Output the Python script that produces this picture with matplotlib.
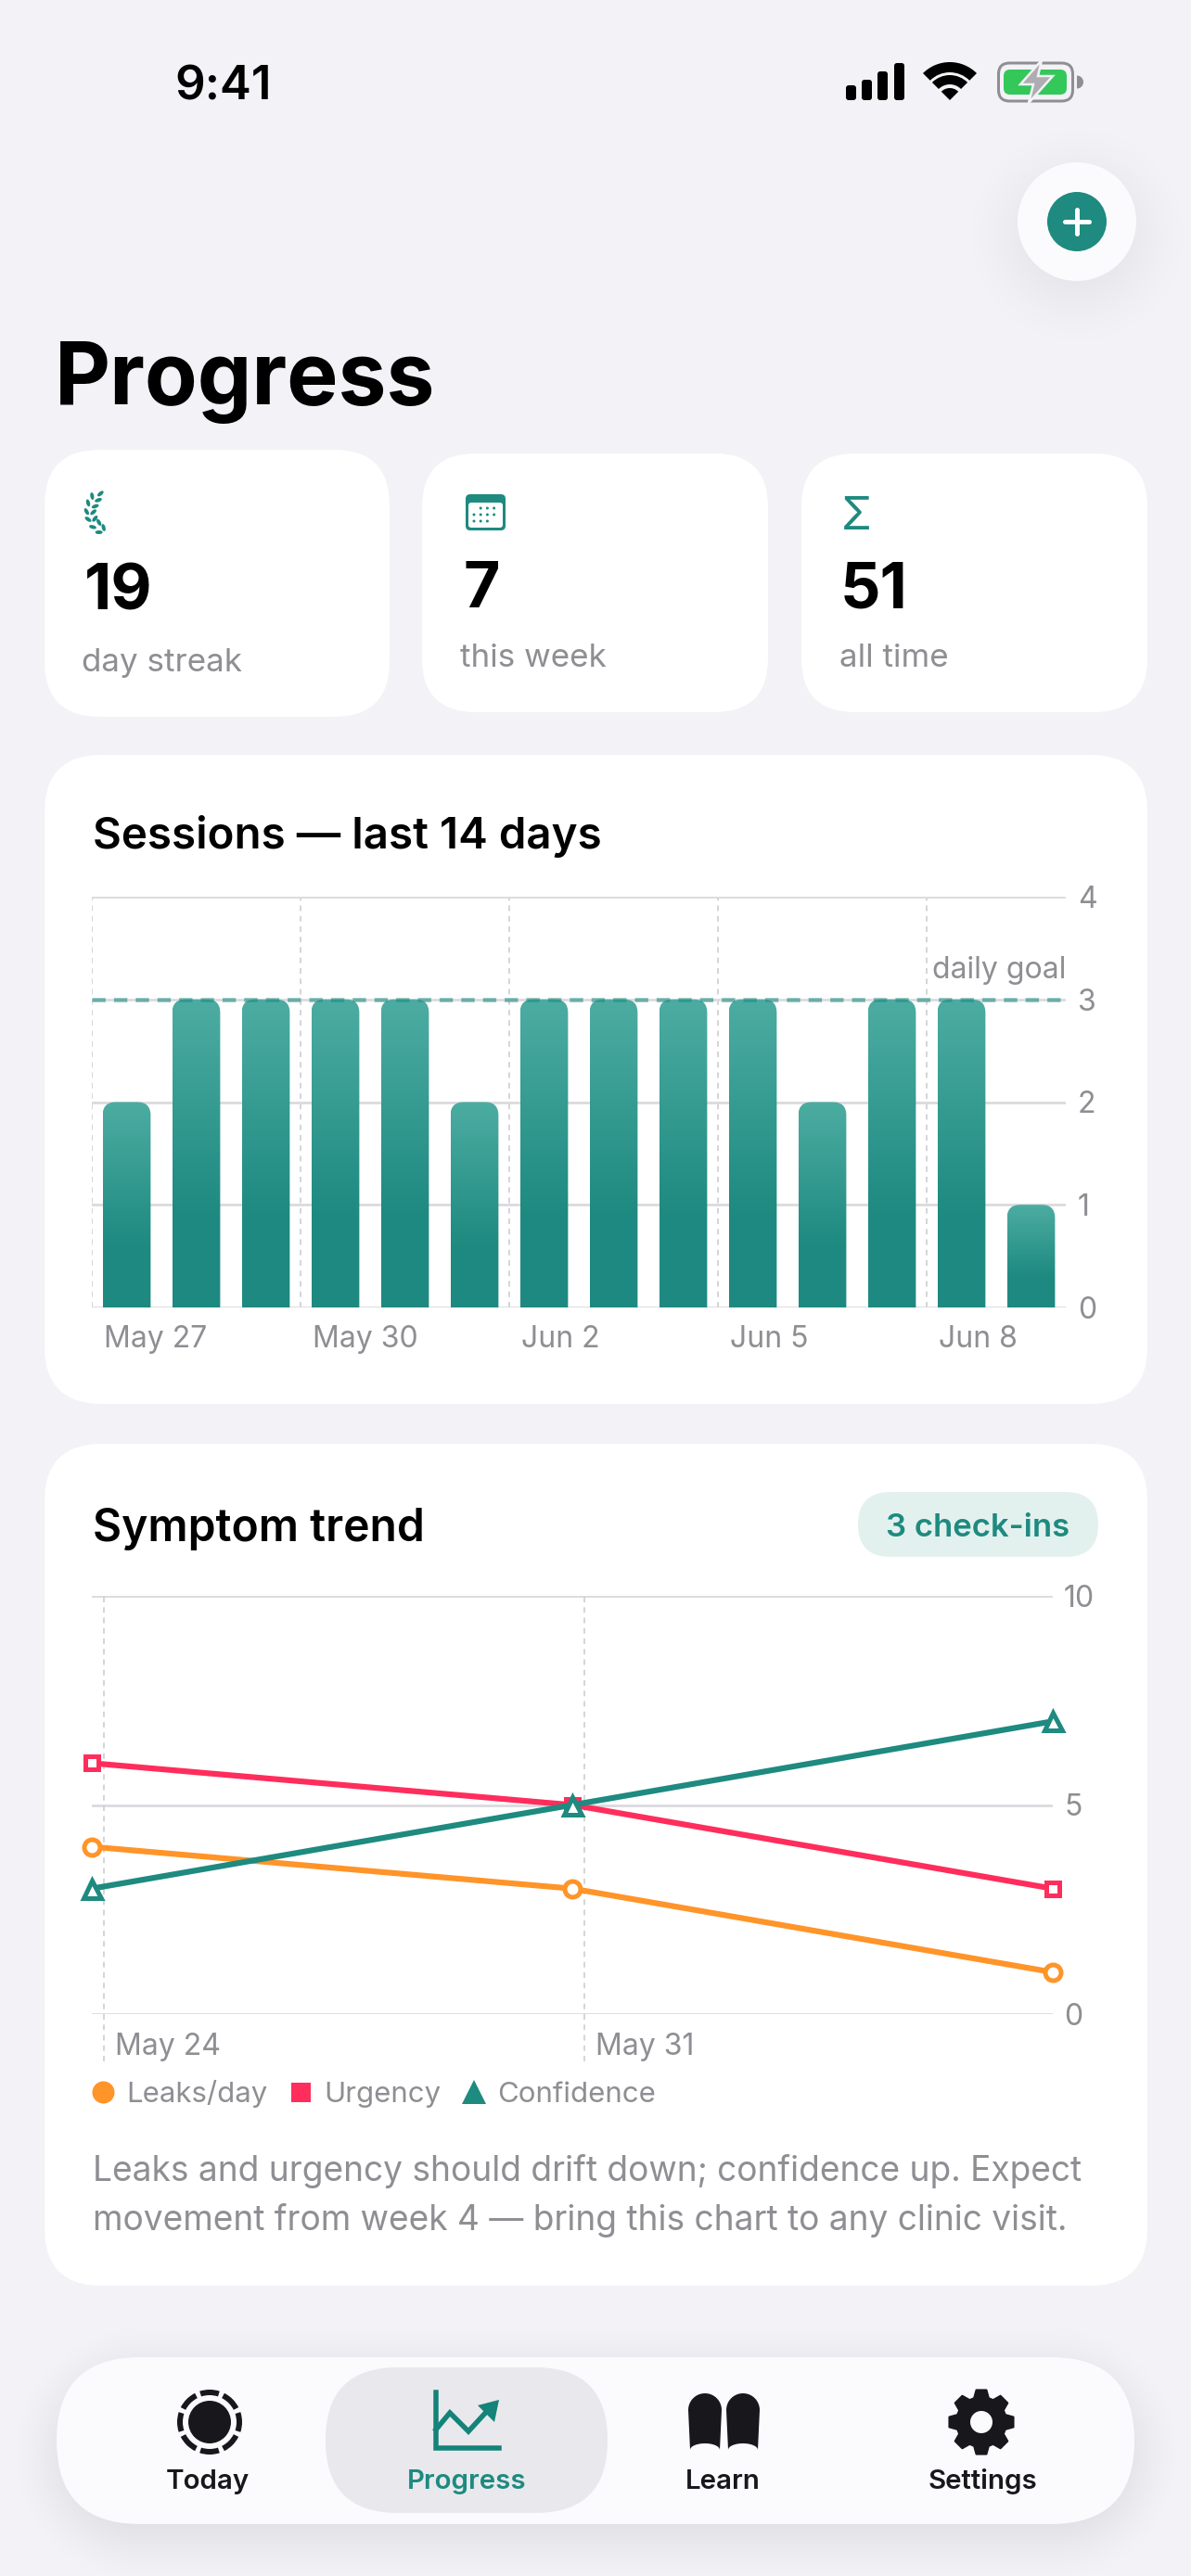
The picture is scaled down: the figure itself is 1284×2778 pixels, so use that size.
import numpy as np
import pandas as pd
import matplotlib
matplotlib.use("Agg")
import matplotlib.pyplot as plt
from matplotlib.patches import FancyBboxPatch, Circle, Wedge, Polygon, Ellipse, PathPatch
from matplotlib.path import Path
from matplotlib.lines import Line2D
from matplotlib.transforms import ScaledTranslation

plt.rcParams['font.family'] = ['Inter', 'DejaVu Sans']

W, H = 1284, 2778

# sessions chart
session_days = ['May 27', 'May 28', 'May 29', 'May 30', 'May 31', 'Jun 1', 'Jun 2',
                'Jun 3', 'Jun 4', 'Jun 5', 'Jun 6', 'Jun 7', 'Jun 8', 'Jun 9']
session_counts = [2, 3, 3, 3, 3, 2, 3, 3, 3, 3, 2, 3, 3, 1]
session_ticks = [0, 3, 6, 9, 12]
daily_goal = 3

# symptom chart
checkin_dates = pd.to_datetime(['2025-05-23 19:45', '2025-05-30 19:45', '2025-06-06 19:45'])
leaks = [4, 3, 1]
urgency = [6, 5, 3]
confidence = [3, 5, 7]
symptom_ticks = pd.to_datetime(['2025-05-24', '2025-05-31'])
symptom_tick_labels = ['May 24', 'May 31']

# stat cards
stat_values = ['19', '7', '51']
stat_labels = ['day streak', 'this week', 'all time']

# tab bar
tab_labels = ['Today', 'Progress', 'Learn', 'Settings']

BG = '#F2F2F7'
TEAL = '#1E8A80'
GRAY = '#8E8E93'
GRID = '#DBDBDF'
VGRID = '#C9C9CD'
ORANGE = '#FF9429'
PINK = '#FF2D5C'
BAR_BG = '#FBFBFE'
INK = '#18181C'


def px_axes(x0, y0, x1, y1):
    return fig.add_axes([x0 / W, 1 - y1 / H, (x1 - x0) / W, (y1 - y0) / H])


def pt(px):
    return px * 72 / 100


def rbox(x0, y0, x1, y1, r, color, z=2):
    p = FancyBboxPatch((x0, y0), x1 - x0, y1 - y0, boxstyle='round,pad=0,rounding_size=%s' % r,
                       fc=color, ec='none', zorder=z)
    bg.add_patch(p)
    return p


def shadow(x0, y0, x1, y1, r, blur, strength):
    yy, xx = np.mgrid[0:H, 0:W]
    cx, cy = (x0 + x1) / 2, (y0 + y1) / 2
    qx = np.abs(xx - cx) - ((x1 - x0) / 2 - r)
    qy = np.abs(yy - cy) - ((y1 - y0) / 2 - r)
    d = np.hypot(np.maximum(qx, 0), np.maximum(qy, 0)) + np.minimum(np.maximum(qx, qy), 0) - r
    t = np.clip(0.5 - d / (2 * blur), 0, 1)
    t = t * t * (3 - 2 * t)
    img = np.zeros((H, W, 4))
    img[..., 3] = t * strength
    bg.imshow(img, extent=(0, W, H, 0), aspect='auto', zorder=1, interpolation='bilinear')


fig = plt.figure(figsize=(W / 100, H / 100), dpi=100, facecolor=BG)
bg = fig.add_axes([0, 0, 1, 1])
bg.axis('off')

shadow(1097, 175 + 14, 1225, 303 + 14, 64, 70, 0.07)
shadow(62, 2542 + 14, 1223, 2722 + 14, 90, 60, 0.10)

# status bar
bg.text(241, 108, '9:41', fontsize=pt(51), fontweight='semibold', ha='center', va='baseline', color='black')
for bx, top in zip([912, 929, 946, 964], [92, 86, 77, 68]):
    rbox(bx, top, bx + 11, 108, 3, 'black')
bg.add_patch(Wedge((1024, 108), 41, 225, 315, width=11, fc='black', ec='none', zorder=3))
bg.add_patch(Wedge((1024, 108), 27, 225, 315, width=10, fc='black', ec='none', zorder=3))
bg.add_patch(Wedge((1024, 108), 13, 225, 315, fc='black', ec='none', zorder=3))
bat = FancyBboxPatch((1076.5, 68), 80, 41, boxstyle='round,pad=0,rounding_size=12', fc='none', ec=GRAY, lw=pt(3), zorder=3)
bg.add_patch(bat)
rbox(1082, 75, 1150, 102, 7, '#34C759', 3)
bg.add_patch(Wedge((1161, 88.5), 7, -90, 90, fc=GRAY, ec='none', zorder=3))
bg.add_patch(Polygon([(1123, 65), (1100, 91), (1114, 91), (1109, 111), (1135, 82), (1119, 82)],
                     closed=True, fc='#AEAEB2', ec=BG, lw=pt(2.5), zorder=4))

# add button
bg.add_patch(Circle((1161, 239), 64, fc=BAR_BG, ec='none', zorder=2))
bg.add_patch(Circle((1161, 239), 32, fc=TEAL, ec='none', zorder=3))
bg.plot([1148, 1174], [239, 239], color='white', lw=pt(5), solid_capstyle='round', zorder=4)
bg.plot([1161, 1161], [226, 252], color='white', lw=pt(5), solid_capstyle='round', zorder=4)

bg.text(59, 436, 'Progress', fontsize=pt(93), fontweight='bold', ha='left', va='baseline', color='black')

# stat cards
rbox(48, 485, 420, 773, 60, 'white')
rbox(455, 489, 828, 768, 58, 'white')
rbox(864, 489, 1237, 768, 58, 'white')
num_x = [91, 499, 906]
num_y = [658, 655, 655]
lab_x = [88, 496, 905]
lab_y = [724, 719, 719]
for i in range(3):
    bg.text(num_x[i], num_y[i], stat_values[i], fontsize=pt(68), fontweight='bold', ha='left', va='baseline', color='black')
    bg.text(lab_x[i], lab_y[i], stat_labels[i], fontsize=pt(35), ha='left', va='baseline', color=GRAY)

# laurel
leaf_u = [145, 118, 138, 105, 128, 100, 122, 105, 127, 120, 140, 155, 140]
leaf_v = [97, 105, 118, 127, 138, 155, 157, 180, 178, 205, 190, 207, 222]
leaf_a = [-40, 80, -20, 75, -20, 60, -40, 35, -50, 15, 60, 75, 0]
for u, v, a in zip(leaf_u, leaf_v, leaf_a):
    bg.add_patch(Ellipse((60 + u / 3, 500 + v / 3), 8, 4, angle=a, fc=TEAL, ec='none', zorder=3))

# calendar
rbox(502, 533, 545, 572, 5, TEAL, 3)
rbox(505, 542, 542, 569, 3, 'white', 4)
for j, row in enumerate([[1, 2, 3], [0, 1, 2, 3], [0, 1, 2]]):
    for k in row:
        bg.add_patch(Circle((511 + k * 7.2, 548 + j * 7), 1.5, fc=TEAL, ec='none', zorder=5))

# sigma
bg.text(923, 571, 'Σ', fontsize=pt(48), ha='center', va='baseline', color=TEAL, zorder=3)

# sessions card
rbox(48, 814, 1237, 1514, 62, 'white')
bg.text(100, 915, 'Sessions — last 14 days', fontsize=pt(47.5), fontweight='semibold', ha='left', va='baseline', color='black')

ax1 = px_axes(99, 967, 1149, 1410)
ax1.patch.set_alpha(0)
for s in ax1.spines.values():
    s.set_visible(False)
bars = ax1.bar(np.arange(14) + 0.5, session_counts, width=0.69, color='none', zorder=3)
top_rgb = np.array([0.30, 0.675, 0.635])
bot_rgb = np.array([0.118, 0.541, 0.502])
for b in bars:
    x0, x1, h = b.get_x(), b.get_x() + b.get_width(), b.get_height()
    frac = np.clip(np.linspace(0, 1, 128) / 0.7, 0, 1)[:, None, None]
    img = (top_rgb * (1 - frac) + bot_rgb * frac)
    rx, ry = 0.19, 0.13
    verts = [(x0, 0), (x0, h - ry), (x0, h), (x0 + rx, h), (x1 - rx, h), (x1, h), (x1, h - ry), (x1, 0), (x0, 0)]
    codes = [Path.MOVETO, Path.LINETO, Path.CURVE3, Path.CURVE3, Path.LINETO, Path.CURVE3, Path.CURVE3, Path.LINETO, Path.CLOSEPOLY]
    im = ax1.imshow(img, extent=(x0, x1, 0, h), aspect='auto', origin='upper', zorder=3)
    im.set_clip_path(PathPatch(Path(verts, codes), transform=ax1.transData))
ax1.set_xlim(0, 14)
ax1.set_ylim(0, 4)
ax1.set_yticks([0, 1, 2, 3, 4])
ax1.yaxis.tick_right()
ax1.set_xticks(session_ticks, [session_days[i] for i in session_ticks])
ax1.tick_params(axis='both', length=0, labelcolor=GRAY, labelsize=pt(32))
ax1.tick_params(axis='y', pad=pt(13))
ax1.tick_params(axis='x', pad=pt(19))
off = ScaledTranslation(13 / 100, 0, fig.dpi_scale_trans)
for t in ax1.get_xticklabels():
    t.set_ha('left')
    t.set_transform(t.get_transform() + off)
ax1.grid(axis='y', color=GRID, lw=pt(2.8), zorder=0)
ax1.grid(axis='x', color=VGRID, lw=pt(1.5), linestyle=(0, (4, 3.5)), zorder=1)
ax1.set_axisbelow(True)
ax1.axhline(daily_goal, color=TEAL, alpha=0.58, lw=pt(4.5), linestyle=(0, (3.2, 2)), zorder=4)
ax1.text(1, daily_goal + 0.14, 'daily goal', transform=ax1.get_yaxis_transform(), ha='right', va='bottom', fontsize=pt(32), color=GRAY)

# symptom card
rbox(48, 1557, 1237, 2465, 62, 'white')
bg.text(100, 1662, 'Symptom trend', fontsize=pt(48), fontweight='semibold', ha='left', va='baseline', color='black')
rbox(925, 1609, 1184, 1679, 35, '#E3F1EE', 3)
bg.text(1054.5, 1657, '3 check-ins', fontsize=pt(34.7), fontweight='semibold', ha='center', va='baseline', color=TEAL, zorder=4)

ax2 = px_axes(99, 1721, 1135, 2172)
ax2.patch.set_alpha(0)
for s in ax2.spines.values():
    s.set_visible(False)
series = [(leaks, ORANGE, 'o', 17), (urgency, PINK, 's', 14), (confidence, TEAL, '^', 19)]
for vals, col, mk, ms in series:
    ax2.plot(checkin_dates, vals, color=col, lw=pt(6.2), marker=mk, markersize=pt(ms), markerfacecolor='white',
             markeredgecolor=col, markeredgewidth=pt(5), clip_on=False, zorder=4)
ax2.set_xlim(checkin_dates[0], checkin_dates[-1])
ax2.set_ylim(0, 10)
ax2.set_yticks([0, 5, 10])
ax2.yaxis.tick_right()
ax2.set_xticks(symptom_ticks, symptom_tick_labels)
ax2.tick_params(axis='both', length=0, labelcolor=GRAY, labelsize=pt(32))
ax2.tick_params(axis='y', pad=pt(12))
ax2.tick_params(axis='x', pad=pt(20))
for t in ax2.get_xticklabels():
    t.set_ha('left')
    t.set_transform(t.get_transform() + ScaledTranslation(12 / 100, 0, fig.dpi_scale_trans))
ax2.grid(axis='y', color=GRID, lw=pt(2.8), zorder=0)
ax2.vlines(symptom_ticks, -1.13, 10, color=VGRID, lw=pt(1.5), linestyle=(0, (4, 3.5)), clip_on=False, zorder=1)
ax2.set_axisbelow(True)

handles = [Line2D([], [], ls='none', marker='o', color=ORANGE, markersize=pt(24), markeredgewidth=0, label='Leaks/day'),
           Line2D([], [], ls='none', marker='s', color=PINK, markersize=pt(21), markeredgewidth=0, label='Urgency'),
           Line2D([], [], ls='none', marker='^', color=TEAL, markersize=pt(26), markeredgewidth=0, label='Confidence')]
ax2.legend(handles=handles, ncol=3, loc='center left', bbox_to_anchor=(99 / W, 1 - 2258 / H), bbox_transform=fig.transFigure,
           frameon=False, fontsize=pt(31.2), labelcolor=GRAY, handlelength=0.77, handletextpad=0.42, columnspacing=0.76,
           borderpad=0, borderaxespad=0, numpoints=1)

bg.text(100, 2352, 'Leaks and urgency should drift down; confidence up. Expect', fontsize=pt(37.1), ha='left', va='baseline', color=GRAY)
bg.text(100, 2405, 'movement from week 4 — bring this chart to any clinic visit.', fontsize=pt(37.1), ha='left', va='baseline', color=GRAY)

# tab bar
rbox(61, 2542, 1223, 2722, 90, BAR_BG, 2)
rbox(351, 2553, 655, 2710, 78, '#E9E9ED', 3)
tab_x = [224, 503, 779, 1059]
for i, lab in enumerate(tab_labels):
    col = TEAL if lab == 'Progress' else INK
    bg.text(tab_x[i], 2684, lab, fontsize=pt(29.5), fontweight='semibold', ha='center', va='baseline', color=col, zorder=4)

# today icon
bg.add_patch(Circle((226, 2612), 23, fc=INK, ec='none', zorder=4))
for a in range(0, 360, 45):
    bg.add_patch(Wedge((226, 2612), 35, a - 18, a + 18, width=6, fc=INK, ec='none', zorder=4))

# progress icon
TAB_TEAL = '#14837A'
bg.plot([470, 470, 538], [2580, 2640, 2640], color=TAB_TEAL, lw=pt(5.5), solid_joinstyle='miter', zorder=4)
bg.plot([470, 485, 505, 528], [2620, 2602, 2622, 2597], color=TAB_TEAL, lw=pt(5.5), solid_joinstyle='miter', zorder=4)
bg.add_patch(Polygon([(538, 2588), (515, 2594), (533, 2612)], closed=True, fc=TAB_TEAL, ec='none', zorder=4))

# learn icon
for x0 in [742, 783]:
    t = np.linspace(np.pi, 2 * np.pi, 30)
    arch = np.c_[x0 + 18 + 18 * np.cos(t), 2599 + 18 * np.sin(t)]
    t2 = np.linspace(0, np.pi, 20)
    notch = np.c_[x0 + 18 + 16 * np.cos(t2), 2642 - 7 * np.sin(t2)]
    bg.add_patch(Polygon(np.r_[arch, notch], closed=True, fc=INK, ec='none', zorder=4))

# settings icon
gear = []
for k in range(8):
    c = np.deg2rad(k * 45 - 90)
    for dr, da in [(27, -17), (35, -9), (35, 9), (27, 17)]:
        a = c + np.deg2rad(da)
        gear.append((1058 + dr * np.cos(a), 2612 + dr * np.sin(a)))
bg.add_patch(Polygon(gear, closed=True, fc=INK, ec=INK, lw=pt(2), joinstyle='round', zorder=4))
bg.add_patch(Circle((1058, 2612), 12, fc=BAR_BG, ec='none', zorder=5))

bg.set_xlim(0, W)
bg.set_ylim(H, 0)

fig.savefig('out.png', dpi=100, facecolor=BG)
